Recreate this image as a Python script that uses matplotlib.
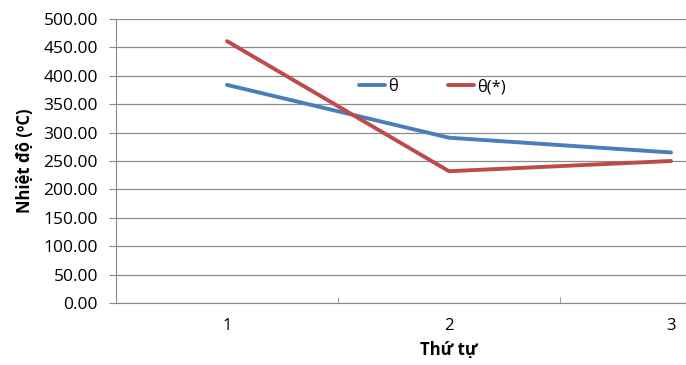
import matplotlib.pyplot as plt
from matplotlib.ticker import FixedLocator, FormatStrFormatter

# dữ liệu nhiệt độ theo thứ tự
thu_tu = [1, 2, 3]
theta = [384, 291, 265]
theta_sao = [461, 232, 250]

plt.rcParams['font.family'] = ['Open Sans', 'DejaVu Sans']

fig = plt.figure(figsize=(6.86, 3.65), dpi=100)
# vùng vẽ kéo dài quá mép phải của hình
ax = fig.add_axes([116 / 686, 62 / 365, 666 / 686, 284 / 365])

ax.plot(thu_tu, theta, color='#4A7EBB', lw=2.8, label='θ', solid_capstyle='round')
ax.plot(thu_tu, theta_sao, color='#BE4B48', lw=2.8, label='θ(*)', solid_capstyle='round')

ax.set_xlim(0.5, 3.5)
ax.set_ylim(0, 500)
ax.set_yticks(range(0, 501, 50))
ax.yaxis.set_major_formatter(FormatStrFormatter('%.2f'))
ax.set_xticks(thu_tu)
ax.xaxis.set_minor_locator(FixedLocator([1.5, 2.5]))
ax.tick_params(axis='x', which='major', length=0, pad=11, labelsize=12)
ax.tick_params(axis='x', which='minor', direction='in', length=4, color='#888888')
ax.tick_params(axis='y', length=5, color='#888888', labelsize=12.5, pad=8)

ax.grid(axis='y', color='#8c8c8c', lw=0.9)
ax.set_axisbelow(True)
for s in ['top', 'right']:
    ax.spines[s].set_visible(False)
for s in ['left', 'bottom']:
    ax.spines[s].set_color('#888888')

ax.set_xlabel('Thứ tự', fontweight='bold', fontsize=12, labelpad=5)
ax.set_ylabel('Nhiệt độ (ºC)', fontweight='bold', fontsize=12, labelpad=7)

ax.legend(loc='center', bbox_to_anchor=(432 / 686, 1 - 87 / 365), bbox_transform=fig.transFigure,
          ncol=2, frameon=False, fontsize=12, handlelength=1.6, handletextpad=0.15,
          columnspacing=3.0)

fig.savefig('out.png', dpi=100)
